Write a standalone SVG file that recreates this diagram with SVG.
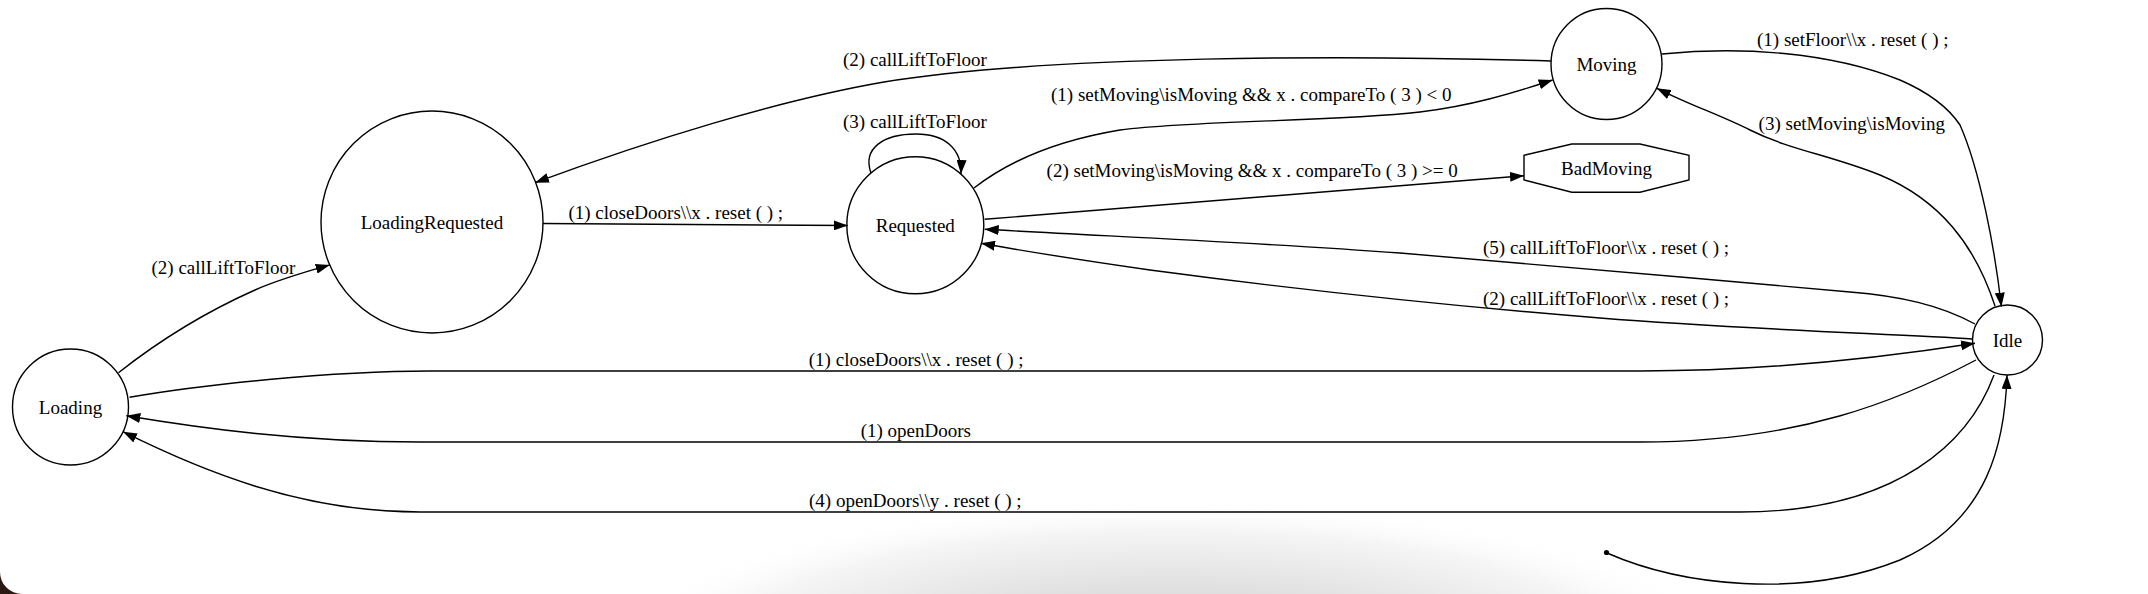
<svg xmlns="http://www.w3.org/2000/svg" width="2148" height="594" viewBox="0 0 2148 594">
<defs>
<style>
.n{fill:none;stroke:#000;stroke-width:1.4}
.e{fill:none;stroke:#000;stroke-width:1.4;marker-end:url(#ah)}
.t{font-family:"Liberation Serif","Times New Roman",serif;font-size:19px;fill:#000}
.c{text-anchor:middle}
</style>
<marker id="ah" markerWidth="14" markerHeight="10" refX="14" refY="5" orient="auto" markerUnits="userSpaceOnUse"><path d="M0,0 L14,5 L0,10 z" fill="#000"/></marker>
<radialGradient id="sh">
<stop offset="0" stop-color="#cdcdcd"/>
<stop offset="0.45" stop-color="#e2e2e2"/>
<stop offset="0.8" stop-color="#f5f5f5"/>
<stop offset="1" stop-color="#ffffff" stop-opacity="0"/>
</radialGradient>
</defs>
<rect width="2148" height="594" fill="#fff"/>
<ellipse cx="1170" cy="650" rx="560" ry="150" fill="url(#sh)"/>
<path d="M0,572 A22,22 0 0 0 22,594 L0,594 Z" fill="#2b1a14"/>

<g id="edges">
<path class="e" d="M118.5,372.7 C160,340 210,310 255,290 C280,279 305,272 329.7,265"/>
<path class="e" d="M543,223.5 L847.8,225.5"/>
<path class="e" d="M1551,61 C1350,55 1050,55 884,82 C780,100 650,140 535,182.7"/>
<path class="e" d="M871,173 C862,148 884,134 916,134 C946,134 962,150 961,174"/>
<path class="e" d="M974,188 C1010,160 1060,140 1120,130 C1200,120 1330,122 1420,112 C1470,106 1510,94 1552.7,80"/>
<path class="e" d="M984.7,219.3 L1524,175.7"/>
<path class="e" d="M1975,324 C1940,305 1900,296 1850,292 C1700,278 1500,262 1400,253 C1250,242 1100,236 984.7,229.3"/>
<path class="e" d="M1972.5,339 C1900,334 1750,330 1600,318 C1450,306 1300,290 1150,270 C1080,260 1030,252 981,243.3"/>
<path class="e" d="M129.5,397.3 C200,385 330,371 430,371 L1640,371 C1780,371 1900,355 1975,343.3"/>
<path class="e" d="M1976,360 C1900,400 1800,442 1640,442 L420,442 C300,442 200,428 126.3,415.7"/>
<path class="e" d="M1994,375 C1970,440 1900,512 1740,512 L420,512 C300,512 200,470 123,431.7"/>
<path class="e" d="M1662,54 C1740,46 1830,52 1900,80 C1930,93 1950,110 1960,125 C1980,170 1995,250 2001.4,306.7"/>
<path class="e" d="M1995,306 C1975,245 1940,200 1880,175 C1830,155 1790,150 1750,130 C1720,115 1690,105 1656.8,88.3"/>
<path class="e" d="M1607,553 C1680,585 1800,600 1900,560 C1990,520 2005,440 2007,375"/>
</g>

<g id="edge-labels">
<text class="t" x="151.5" y="274">(2) callLiftToFloor</text>
<text class="t" x="568.4" y="219">(1) closeDoors\\x . reset ( ) ;</text>
<text class="t" x="843" y="66">(2) callLiftToFloor</text>
<text class="t" x="843" y="127.7">(3) callLiftToFloor</text>
<text class="t" x="1051" y="100.7">(1) setMoving\isMoving &amp;&amp; x . compareTo ( 3 ) &lt; 0</text>
<text class="t" x="1046.6" y="177.3">(2) setMoving\isMoving &amp;&amp; x . compareTo ( 3 ) &gt;= 0</text>
<text class="t" x="1483" y="254">(5) callLiftToFloor\\x . reset ( ) ;</text>
<text class="t" x="1483" y="305">(2) callLiftToFloor\\x . reset ( ) ;</text>
<text class="t" x="1757" y="46">(1) setFloor\\x . reset ( ) ;</text>
<text class="t" x="1758.6" y="130">(3) setMoving\isMoving</text>
<text class="t" x="808.8" y="366">(1) closeDoors\\x . reset ( ) ;</text>
<text class="t" x="860.7" y="436.7">(1) openDoors</text>
<text class="t" x="809" y="506.7">(4) openDoors\\y . reset ( ) ;</text>
</g>

<g id="Loading"><circle class="n" cx="70.5" cy="407" r="58"/><text class="t c" x="70.5" y="413.5">Loading</text></g>
<g id="LoadingRequested"><circle class="n" cx="432" cy="222" r="111"/><text class="t c" x="432" y="228.5">LoadingRequested</text></g>
<g id="Requested"><circle class="n" cx="915.3" cy="225.3" r="68.5"/><text class="t c" x="915.3" y="231.8">Requested</text></g>
<g id="Moving"><circle class="n" cx="1606.5" cy="64" r="55.5"/><text class="t c" x="1606.5" y="70.5">Moving</text></g>
<g id="BadMoving"><polygon class="n" points="1571.8,144 1640,144 1689,155.3 1689,180 1640,192.3 1571.8,192.3 1524,180 1524,155.3"/><text class="t c" x="1606.5" y="174.5">BadMoving</text></g>
<g id="Idle"><circle class="n" cx="2007.5" cy="340" r="35"/><text class="t c" x="2007.5" y="346.5">Idle</text></g>
<g id="initial"><circle cx="1606.5" cy="552.5" r="2.6" fill="#000"/></g>
</svg>
